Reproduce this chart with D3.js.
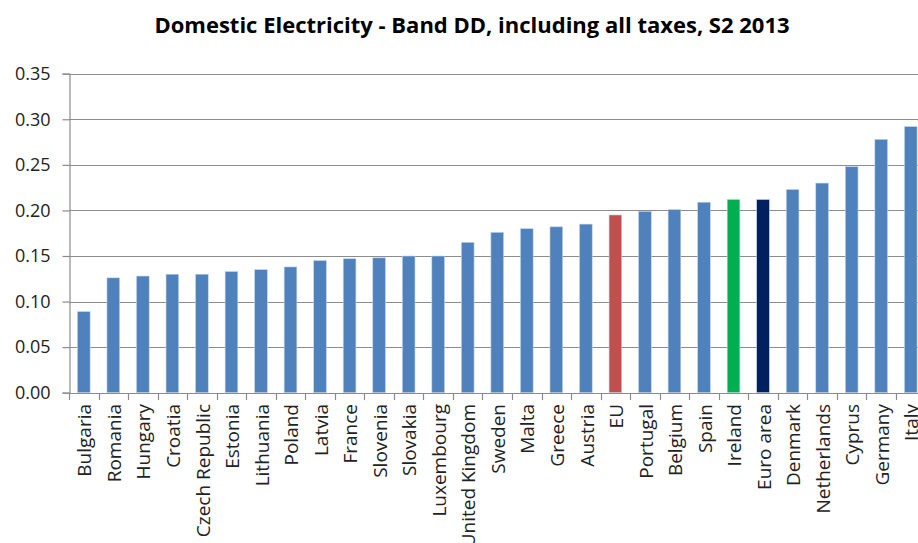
<!DOCTYPE html>
<html>
<head>
<meta charset="utf-8">
<script src="https://cdn.jsdelivr.net/npm/d3@7"></script>
<style>
  html, body { margin: 0; padding: 0; background: #fff; overflow: hidden; }
  svg { display: block; font-family: "Open Sans", "Noto Sans", sans-serif; }
</style>
</head>
<body>
<svg id="chart" width="918" height="543"></svg>
<script>
// Domestic electricity prices, Band DD, all taxes included, second half of 2013 (EUR/kWh)
const categories = [
  "Bulgaria", "Romania", "Hungary", "Croatia", "Czech Republic", "Estonia",
  "Lithuania", "Poland", "Latvia", "France", "Slovenia", "Slovakia",
  "Luxembourg", "United Kingdom", "Sweden", "Malta", "Greece", "Austria",
  "EU", "Portugal", "Belgium", "Spain", "Ireland", "Euro area", "Denmark",
  "Netherlands", "Cyprus", "Germany", "Italy"
];
const prices = [
  0.089, 0.126, 0.128, 0.130, 0.130, 0.133,
  0.135, 0.138, 0.145, 0.147, 0.148, 0.150,
  0.150, 0.165, 0.176, 0.180, 0.182, 0.185,
  0.195, 0.199, 0.201, 0.209, 0.212, 0.212, 0.223,
  0.230, 0.248, 0.278, 0.292
];
const yTicks = [0, 0.05, 0.10, 0.15, 0.20, 0.25, 0.30, 0.35];
const titleText = "Domestic Electricity - Band DD, including all taxes, S2 2013";

// Highlighted aggregates and Ireland get their own colours
const highlight = { "EU": "#C0504D", "Ireland": "#00B050", "Euro area": "#002060" };
const baseColor = "#4F81BD";

const svg = d3.select("#chart");
const plotLeft = 69, plotRight = 925.5, plotTop = 73.7, plotBottom = 392.7;
const pad = 0.57;

const x = d3.scaleBand().domain(categories).range([plotLeft, plotRight])
  .paddingInner(pad).paddingOuter(pad / 2);
const y = d3.scaleLinear().domain([0, 0.35]).range([plotBottom, plotTop]);

// Title
svg.append("text")
  .attr("x", 472).attr("y", 33)
  .attr("text-anchor", "middle")
  .style("font-size", "22px").style("font-weight", "bold").style("fill", "#000")
  .text(titleText);

// Horizontal gridlines
svg.append("g").selectAll("line").data(yTicks.slice(1)).join("line")
  .attr("x1", plotLeft).attr("x2", plotRight)
  .attr("y1", d => Math.round(y(d)) + 0.5).attr("y2", d => Math.round(y(d)) + 0.5)
  .attr("stroke", "#8c8c8c").attr("stroke-width", 1.2);

// Y axis
const yAxis = svg.append("g")
  .attr("transform", `translate(${plotLeft + 0.5},0)`)
  .call(d3.axisLeft(y).tickValues(yTicks).tickFormat(d3.format(".2f")).tickSize(7).tickPadding(12));
yAxis.select(".domain").attr("stroke", "#8c8c8c").attr("stroke-width", 1.2);
yAxis.selectAll(".tick line").attr("stroke", "#8c8c8c").attr("stroke-width", 1.2);
yAxis.selectAll(".tick text").style("font-size", "18px").style("fill", "#222")
  .style("font-family", "\"Open Sans\", sans-serif");

// Bars
svg.append("g").selectAll("rect").data(categories).join("rect")
  .attr("x", d => x(d))
  .attr("width", x.bandwidth())
  .attr("y", (d, i) => y(prices[i]))
  .attr("height", (d, i) => y(0) - y(prices[i]))
  .attr("fill", d => highlight[d] || baseColor)
  .attr("stroke", "#c6d6ea").attr("stroke-width", 0.6);

// X axis baseline and category boundary ticks
const xg = svg.append("g");
xg.append("line")
  .attr("x1", plotLeft).attr("x2", plotRight)
  .attr("y1", Math.round(plotBottom) + 0.5).attr("y2", Math.round(plotBottom) + 0.5)
  .attr("stroke", "#8c8c8c").attr("stroke-width", 1.2);
xg.selectAll("line.tk").data(d3.range(categories.length + 1)).join("line")
  .attr("class", "tk")
  .attr("x1", i => Math.round(plotLeft + i * x.step()) + 0.5)
  .attr("x2", i => Math.round(plotLeft + i * x.step()) + 0.5)
  .attr("y1", Math.round(plotBottom)).attr("y2", Math.round(plotBottom) + 7)
  .attr("stroke", "#8c8c8c").attr("stroke-width", 1.2);

// Rotated category labels
xg.selectAll("text").data(categories).join("text")
  .attr("transform", d => `translate(${x(d) + x.bandwidth() / 2 + 1},404) rotate(-90)`)
  .attr("dy", "0.35em")
  .attr("text-anchor", "end")
  .style("font-size", "19px").style("fill", "#222")
  .text(d => d);
</script>
</body>
</html>
